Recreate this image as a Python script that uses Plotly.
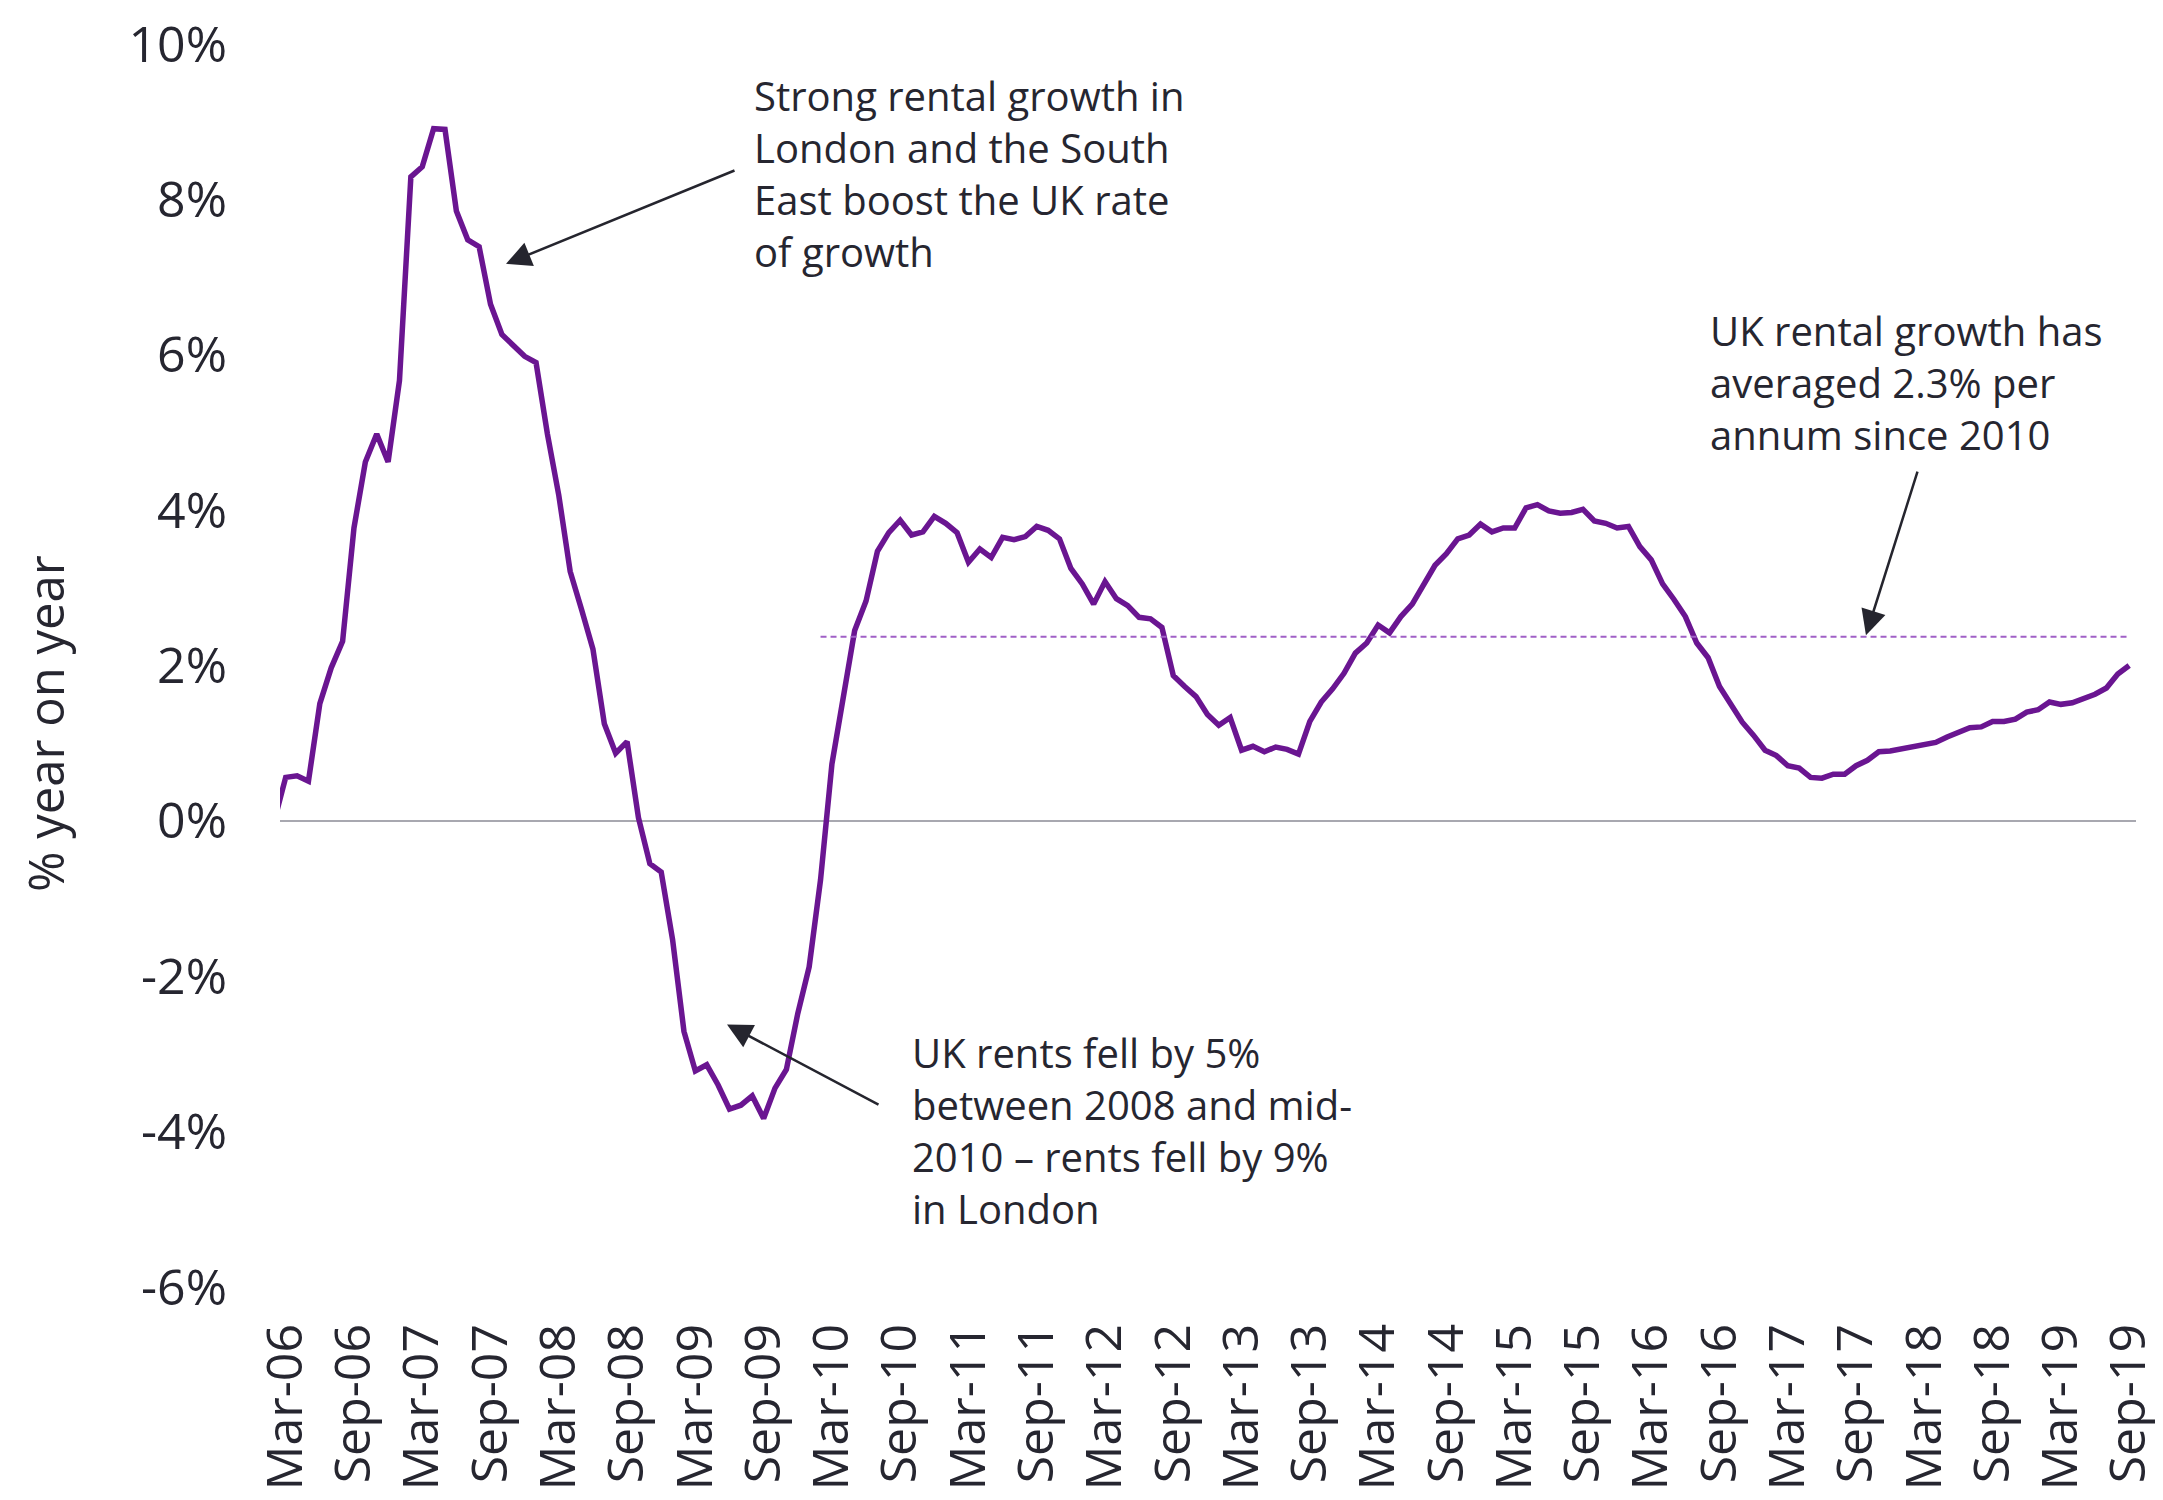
import pandas as pd
import plotly.graph_objects as go

# Monthly categories Feb-06 .. Sep-19 (Feb-06 sits just outside the visible range)
months = list(pd.date_range("2006-02-01", "2019-09-01", freq="MS").strftime("%b-%y"))

# UK rental growth, % year on year (Feb-06 .. Sep-19)
growth = [
    0.00,
    0.56, 0.58, 0.51, 1.51, 1.97, 2.31, 3.77, 4.62, 4.98, 4.62, 5.67, 8.29,
    8.42, 8.91, 8.90, 7.85, 7.48, 7.39, 6.65, 6.26, 6.11, 5.98, 5.90, 4.98,
    4.19, 3.21, 2.72, 2.21, 1.25, 0.87, 1.02, 0.04, -0.55, -0.66, -1.53, -2.71,
    -3.22, -3.14, -3.40, -3.71, -3.66, -3.54, -3.83, -3.44, -3.20, -2.48, -1.88, -0.76,
    0.73, 1.59, 2.45, 2.83, 3.47, 3.71, 3.87, 3.68, 3.72, 3.92, 3.83, 3.71,
    3.33, 3.50, 3.39, 3.65, 3.62, 3.66, 3.79, 3.74, 3.63, 3.25, 3.05, 2.79,
    3.08, 2.86, 2.77, 2.62, 2.60, 2.49, 1.87, 1.73, 1.60, 1.37, 1.23, 1.33,
    0.91, 0.96, 0.89, 0.95, 0.92, 0.86, 1.28, 1.53, 1.70, 1.90, 2.16, 2.29,
    2.52, 2.42, 2.63, 2.79, 3.04, 3.29, 3.44, 3.63, 3.68, 3.82, 3.72, 3.77,
    3.77, 4.03, 4.07, 3.99, 3.96, 3.97, 4.01, 3.86, 3.83, 3.77, 3.79, 3.53,
    3.36, 3.05, 2.85, 2.63, 2.29, 2.10, 1.73, 1.51, 1.27, 1.10, 0.91, 0.84,
    0.71, 0.68, 0.56, 0.55, 0.60, 0.60, 0.71, 0.78, 0.89, 0.90, 0.93, 0.96,
    0.99, 1.01, 1.08, 1.14, 1.20, 1.21, 1.28, 1.28, 1.31, 1.40, 1.43, 1.53,
    1.50, 1.52, 1.58, 1.63, 1.71, 1.89, 2.00,
]

avg_value = 2.37
avg_start = "Feb-10"

tick_labels = months[1::6]
y_ticks = [-6, -4, -2, 0, 2, 4, 6, 8, 10]
y_tick_text = [f"{v}%" for v in y_ticks]

avg_months = months[months.index(avg_start):]
avg_values = [avg_value] * len(avg_months)

TEXT = "#262630"
FONT = "Open Sans"

fig = go.Figure()
fig.add_trace(go.Scatter(
    x=months, y=growth, mode="lines",
    line=dict(color="#6a1591", width=5.5),
    hoverinfo="skip", showlegend=False,
))
fig.add_trace(go.Scatter(
    x=avg_months, y=avg_values, mode="lines",
    line=dict(color="#a060c6", width=2, dash="6px,4px"),
    hoverinfo="skip", showlegend=False,
))

# page has an 8px body margin, so the figure is sized to fit the window
OFF = 8
W, H = 2163 - OFF, 1500 - OFF
L, T = 280 - OFF, 44 - OFF
R = W - (2136 - OFF)
B = H - (1287 - OFF)
pw, ph = W - L - R, H - T - B


def px_to_paper(px, py):
    fx, fy = px - OFF, py - OFF
    return (fx - L) / pw, (H - B - fy) / ph


annotations = []
# text blocks (page pixel positions of left edge / vertical centre)
texts = [
    ("Strong rental growth in<br>London and the South<br>East boost the UK rate<br>of growth", 752, 173),
    ("UK rental growth has<br>averaged 2.3% per<br>annum since 2010", 1708, 382),
    ("UK rents fell by 5%<br>between 2008 and mid-<br>2010 – rents fell by 9%<br>in London", 910, 1130),
]
for txt, px, py in texts:
    xp, yp = px_to_paper(px, py)
    annotations.append(dict(
        text=txt, xref="paper", yref="paper", x=xp, y=yp,
        xanchor="left", yanchor="middle", align="left", showarrow=False,
        font=dict(family=FONT, size=40, color=TEXT),
    ))

# arrows: tip in data coords, tail offset in pixels
arrows = [
    (20.36, 7.17, 230, -94),
    (139.87, 2.39, 52, -165),
    (39.78, -2.62, 153, 81),
]
for xi, yv, ax, ay in arrows:
    annotations.append(dict(
        x=xi, y=yv, xref="x", yref="y", ax=ax, ay=ay,
        axref="pixel", ayref="pixel", text="", showarrow=True,
        arrowhead=2, arrowsize=2, arrowwidth=2.5, arrowcolor="#25252e",
        standoff=0,
    ))

# y-axis title
xp, yp = px_to_paper(45, 724)
annotations.append(dict(
    text="% year on year", xref="paper", yref="paper", x=xp, y=yp,
    xanchor="center", yanchor="middle", textangle=-90, showarrow=False,
    font=dict(family=FONT, size=49, color=TEXT),
))

fig.update_layout(
    width=W, height=H,
    margin=dict(l=L, r=R, t=T, b=B),
    paper_bgcolor="white", plot_bgcolor="white",
    font=dict(family=FONT, color=TEXT),
    annotations=annotations,
    xaxis=dict(
        type="category", categoryorder="array", categoryarray=months,
        range=[0.5, 163.6], automargin=False, ticklabeloverflow="allow",
        tickmode="array", tickvals=tick_labels, ticktext=tick_labels,
        tickangle=-90, tickfont=dict(family=FONT, size=50, color=TEXT),
        ticks="outside", ticklen=16, tickcolor="rgba(0,0,0,0)",
        showgrid=False, zeroline=False, showline=False,
    ),
    yaxis=dict(
        range=[-6, 10], automargin=False, ticklabeloverflow="allow",
        tickmode="array", tickvals=y_ticks, ticktext=y_tick_text,
        tickfont=dict(family=FONT, size=50, color=TEXT),
        ticks="outside", ticklen=42, tickcolor="rgba(0,0,0,0)",
        showgrid=False, showline=False,
        zeroline=True, zerolinecolor="#a8a8b0", zerolinewidth=2,
    ),
)

fig.write_html("out.html")
